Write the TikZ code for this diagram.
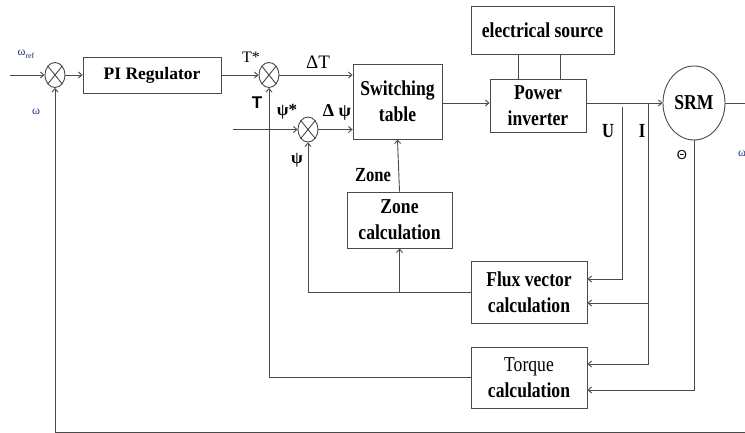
\documentclass[tikz,border=0pt]{standalone}
\usepackage{fontspec}
\setmainfont{Liberation Serif}
\newfontfamily\bx[FakeStretch=0.83]{Liberation Serif}
\newfontfamily\hv{Liberation Sans}
\usetikzlibrary{arrows.meta,shapes.geometric}
\definecolor{lnc}{HTML}{4A4A4A}
\definecolor{wblue}{HTML}{22337A}
\begin{document}
\begin{tikzpicture}[x=1pt,y=-1pt,
  ln/.style={draw=lnc,line width=0.9pt},
  arr/.style={ln,-{Straight Barb[length=3.5pt,width=6pt]}},
  blk/.style={draw=lnc,line width=0.9pt,rectangle,inner sep=0pt,align=center,
    font=\bx\fontsize{21.2}{26}\selectfont\bfseries},
  sumj/.style={ellipse,draw=lnc,line width=0.9pt,minimum width=20pt,minimum height=25pt,inner sep=0pt},
  lbl/.style={inner sep=0pt,font=\fontsize{16}{18}\selectfont},
  blbl/.style={inner sep=0pt,font=\bx\fontsize{20}{22}\selectfont\bfseries},
  wl/.style={inner sep=0pt,text=wblue,font=\fontsize{12}{13}\selectfont}
]
\useasboundingbox (0,0) rectangle (745,433);

% blocks
\node[blk,minimum width=138pt,minimum height=36pt,font=\fontsize{17.5}{20}\selectfont\bfseries] (pi) at (152,75) {PI Regulator};
\node[blk,minimum width=89pt,minimum height=75pt] (sw) at (397.5,101.5) {Switching\\table};
\node[blk,minimum width=143pt,minimum height=48pt] (el) at (542.5,30) {electrical source};
\node[blk,minimum width=96pt,minimum height=53pt] (inv) at (538,105.5) {Power\\inverter};
\node[blk,minimum width=105pt,minimum height=56pt] (zn) at (399.5,220) {Zone\\calculation};
\node[blk,minimum width=116pt,minimum height=62pt] (fx) at (529,292) {Flux vector\\calculation};
\node[blk,minimum width=116pt,minimum height=61pt] (tq) at (529,377.5) {\mdseries Torque\\calculation};
\node[blk,ellipse,minimum width=62pt,minimum height=74pt] (srm) at (694,103) {SRM};

% summing junctions
\node[sumj] (s1) at (55,75) {};
\node[sumj] (s2) at (269,75) {};
\node[sumj] (s3) at (308,129.5) {};
\foreach \s in {s1,s2,s3}{
  \draw[ln] (\s.north east) -- (\s.south west);
  \draw[ln] (\s.north west) -- (\s.south east);
}

% helper coordinates
\coordinate (wrefin) at (10,75);
\coordinate (psiin) at (233,129.5);
\coordinate (m) at (0,103);
\coordinate (wout) at (745,103);
\coordinate (bot) at (745,432);
\coordinate (ut) at (622,107);
\coordinate (it) at (648,103);
\coordinate (ib) at (648,303);
\coordinate (e1) at (518,0);
\coordinate (e2) at (560,0);
\coordinate (yU) at (0,279);
\coordinate (yI) at (0,303);
\coordinate (yIt) at (0,364);
\coordinate (yth) at (0,390);

% forward path
\draw[arr] (wrefin) -- (s1.west);
\draw[arr] (s1.east) -- (pi.west);
\draw[arr] (pi.east) -- (s2.west);
\draw[arr] (s2.east) -- (sw.west |- s2.east);
\draw[arr] (psiin) -- (s3.west);
\draw[arr] (s3.east) -- (sw.west |- s3.east);
\draw[arr] (sw.east |- m) -- (inv.west |- m);
\draw[arr] (inv.east |- m) -- (srm.west);
\draw[ln] (srm.east) -- (wout);
\draw[ln] (el.south -| e1) -- (inv.north -| e1);
\draw[ln] (el.south -| e2) -- (inv.north -| e2);
\draw[arr] (zn.north) -- (sw.south);

% feedback
\draw[arr] (ut) |- (fx.east |- yU);
\draw[arr] (it) |- (fx.east |- yI);
\draw[arr] (ib) |- (tq.east |- yIt);
\draw[arr] (srm.south) |- (tq.east |- yth);
\draw[arr] (fx.west) -| (s3.south);
\draw[arr] (zn.south |- fx.west) -- (zn.south);
\draw[arr] (tq.west) -| (s2.south);
\draw[arr] (bot) -| (s1.south);

% labels
\node[wl] (lwref) at (26,54) {ω\raisebox{-2.5pt}{\fontsize{8}{9}\selectfont ref}};
\node[wl] (lw) at (36,112) {ω};
\node[wl] (lwo) at (742,154) {ω};
\node[lbl] (lts) at (251,57) {T*};
\node[lbl,font=\fontsize{19}{21}\selectfont] (ldt) at (318,62) {ΔT};
\node[inner sep=0pt,font=\hv\fontsize{17}{19}\selectfont\bfseries] (lt) at (257,103) {T};
\node[inner sep=0pt,font=\fontsize{17}{19}\selectfont\bfseries] (lps) at (287,112) {ψ*};
\node[inner sep=0pt,font=\fontsize{18}{20}\selectfont\bfseries] (ldp) at (337,112) {Δ ψ};
\node[inner sep=0pt,font=\fontsize{17}{19}\selectfont\bfseries] (lp) at (297,160) {ψ};
\node[blbl] (lz) at (373,175) {Zone};
\node[blbl] (lu) at (608,131) {U};
\node[blbl] (li) at (642,131) {I};
\node[inner sep=0pt,font=\hv\fontsize{13}{15}\selectfont] (lth) at (682,155) {Θ};
\end{tikzpicture}
\end{document}
